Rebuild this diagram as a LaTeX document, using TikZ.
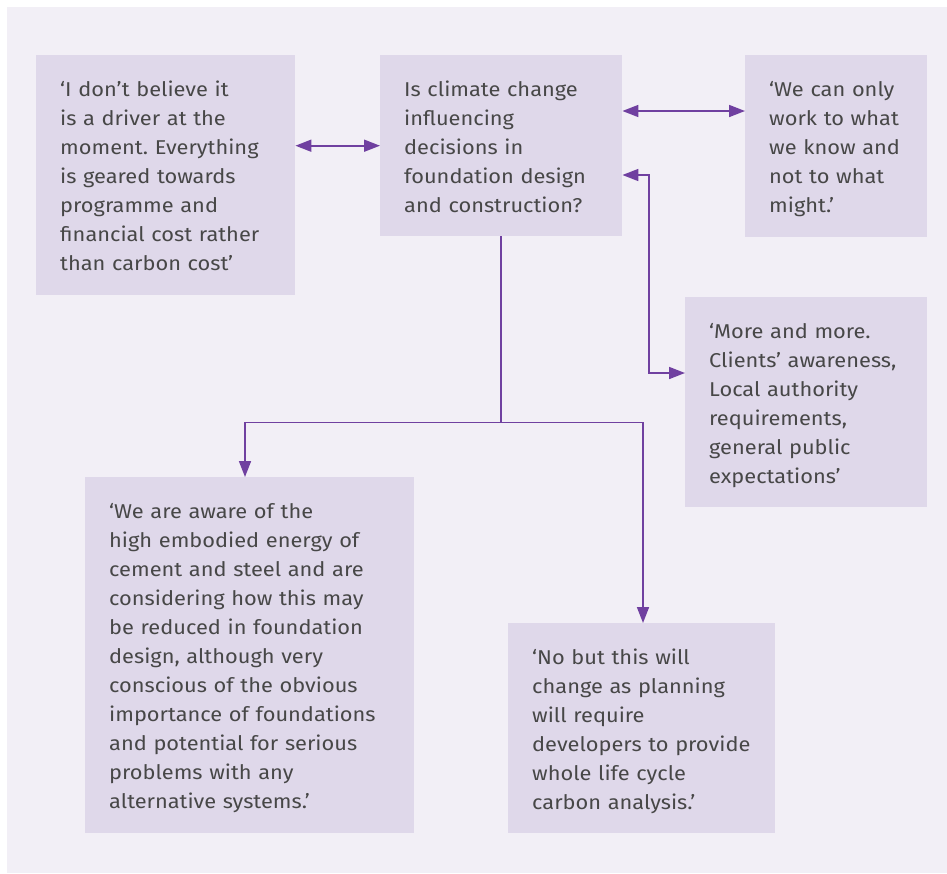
\documentclass[tikz,border=0pt]{standalone}
\usepackage{fontspec}
\setmainfont{Fira Sans}[FakeStretch=1.09]
\usetikzlibrary{arrows.meta,calc}
\definecolor{pagebg}{HTML}{F2EFF6}
\definecolor{cardbg}{HTML}{DFD8EA}
\definecolor{linkpurple}{HTML}{7040A0}
\definecolor{quotegray}{HTML}{474747}
\frenchspacing
\begin{document}
\begin{tikzpicture}[x=1pt,y=-1pt,
  card/.style={fill=cardbg, anchor=north west, inner xsep=24pt, inner ysep=0pt, align=left, text=quotegray, font=\fontsize{20}{29}\selectfont, text height=41pt},
  link/.style={draw=linkpurple, line width=1.7pt},
  >={Triangle[length=16pt,width=12pt]}]
\useasboundingbox (0,0) rectangle (947,873);
\fill [pagebg] (7,7) rectangle (947,873);
\node [card, text width=211pt, text depth=199pt] (driver) at (36,55) {‘I don’t believe it\\is a driver at the\\moment. Everything\\is geared towards\\programme and\\financial cost rather\\than carbon cost’};
\node [card, text width=194pt, text depth=140pt] (question) at (380,55) {Is climate change\\influencing\\decisions in\\foundation design\\and construction?};
\node [card, text width=134pt, text depth=141pt] (onlyknow) at (745,55) {‘We can only\\work to what\\we know and\\not to what\\might.’};
\node [card, text width=194pt, text depth=169pt] (moremore) at (685,297) {‘More and more.\\Clients’ awareness,\\Local authority\\requirements,\\general public\\expectations’};
\node [card, text width=281pt, text depth=315pt] (embodied) at (85,477) {‘We are aware of the\\high embodied energy of\\cement and steel and are\\considering how this may\\be reduced in foundation\\design, although very\\conscious of the obvious\\importance of foundations\\and potential for serious\\problems with any\\alternative systems.’};
\node [card, text width=219pt, text depth=169pt] (planning) at (508,623) {‘No but this will\\change as planning\\will require\\developers to provide\\whole life cycle\\carbon analysis.’};
\coordinate (bend) at ($(moremore.north west)+(-36,76)$);
\coordinate (split) at ($(question.south)+(0,186)$);
\draw [link,<->] (driver.east |- question.west) -- (question.west);
\draw [link,<->] ($(question.north east)+(0,56)$) -- ($(onlyknow.north west)+(0,56)$);
\draw [link,<->] ($(question.north east)+(0,120)$) -| (bend) -- (moremore.west |- bend);
\draw [link,->] (question.south) -- (split) -| ($(embodied.north west)+(160,0)$);
\draw [link,->] (split) -| ($(planning.north west)+(135,0)$);
\end{tikzpicture}
\end{document}
